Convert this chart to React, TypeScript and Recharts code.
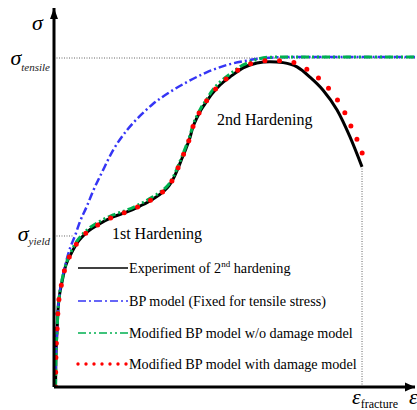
import React from 'react';
import { LineChart, Line, XAxis, YAxis, ReferenceLine, ReferenceDot, Legend } from 'recharts';

// Normalised units: strain / fracture strain, stress / tensile stress
const SIGMA_TENSILE = 1.0;
const SIGMA_YIELD = 0.459;
const EPS_FRACTURE = 1.0;
const X_MAX = 1.172;
const Y_MAX = 1.152;

const experimentStrain = [0.005, 0.006, 0.01, 0.013, 0.018, 0.026, 0.036, 0.045, 0.055, 0.075, 0.091, 0.107, 0.146, 0.192, 0.237, 0.279, 0.321, 0.354, 0.373, 0.39, 0.403, 0.416, 0.429, 0.442, 0.451, 0.464, 0.477, 0.494, 0.513, 0.539, 0.571, 0.614, 0.659, 0.701, 0.744, 0.789, 0.831, 0.873, 0.919, 0.961, 1.0];
const experimentStress = [0, 0.082, 0.173, 0.234, 0.28, 0.319, 0.362, 0.386, 0.404, 0.438, 0.456, 0.471, 0.495, 0.517, 0.532, 0.55, 0.571, 0.593, 0.611, 0.638, 0.666, 0.696, 0.726, 0.76, 0.79, 0.818, 0.842, 0.866, 0.891, 0.918, 0.942, 0.97, 0.985, 0.989, 0.986, 0.973, 0.942, 0.903, 0.842, 0.76, 0.669];

const bpStrain = [0.005, 0.006, 0.01, 0.013, 0.019, 0.029, 0.039, 0.052, 0.068, 0.084, 0.107, 0.127, 0.156, 0.192, 0.237, 0.279, 0.321, 0.377, 0.432, 0.497, 0.562, 0.62, 0.685, 0.766, 1.172];
const bpStress = [0, 0.082, 0.173, 0.234, 0.289, 0.34, 0.38, 0.422, 0.459, 0.502, 0.55, 0.596, 0.653, 0.72, 0.781, 0.824, 0.86, 0.897, 0.927, 0.957, 0.979, 0.991, 1.0, 1.003, 1.003];

const modNoDamageStrain = [0.005, 0.006, 0.01, 0.013, 0.018, 0.026, 0.036, 0.055, 0.075, 0.107, 0.146, 0.192, 0.237, 0.279, 0.321, 0.354, 0.373, 0.39, 0.403, 0.416, 0.429, 0.442, 0.451, 0.464, 0.477, 0.494, 0.513, 0.539, 0.571, 0.614, 0.653, 0.692, 0.734, 1.172];
const modNoDamageStress = [0, 0.082, 0.173, 0.234, 0.28, 0.325, 0.365, 0.41, 0.444, 0.477, 0.502, 0.523, 0.538, 0.556, 0.578, 0.599, 0.617, 0.644, 0.672, 0.702, 0.733, 0.766, 0.796, 0.824, 0.848, 0.872, 0.9, 0.927, 0.951, 0.979, 0.994, 1.002, 1.003, 1.003];

const modDamageStrain = [0.005, 0.006, 0.01, 0.013, 0.018, 0.026, 0.036, 0.045, 0.055, 0.075, 0.091, 0.107, 0.146, 0.192, 0.237, 0.279, 0.321, 0.354, 0.373, 0.39, 0.403, 0.416, 0.429, 0.442, 0.451, 0.464, 0.477, 0.494, 0.513, 0.539, 0.571, 0.614, 0.659, 0.698, 0.747, 0.792, 0.834, 0.873, 0.903, 0.929, 0.951, 0.971, 0.99, 1.006];
const modDamageStress = [0, 0.082, 0.173, 0.234, 0.28, 0.319, 0.362, 0.386, 0.404, 0.438, 0.456, 0.471, 0.495, 0.517, 0.533, 0.551, 0.572, 0.594, 0.612, 0.639, 0.667, 0.697, 0.727, 0.761, 0.791, 0.819, 0.843, 0.868, 0.893, 0.92, 0.945, 0.973, 0.988, 0.992, 0.991, 0.982, 0.957, 0.927, 0.894, 0.86, 0.821, 0.778, 0.739, 0.696];

const seriesNames = [
  'Experiment of 2nd hardening',
  'BP model (Fixed for tensile stress)',
  'Modified BP model w/o damage model',
  'Modified BP model with damage model',
];
const annotationTexts = ['1st Hardening', '2nd Hardening'];

const zip = (xs: number[], ys: number[]) => xs.map((x, i) => ({ x, y: ys[i] }));
const experimentData = zip(experimentStrain, experimentStress);
const bpData = zip(bpStrain, bpStress);
const modNoDamageData = zip(modNoDamageStrain, modNoDamageStress);
const modDamageData = zip(modDamageStrain, modDamageStress);

const FONT = '"Liberation Serif", "Times New Roman", serif';
const BLUE = '#3535f5';
const GREEN = '#00b050';
const RED = '#ff0000';
const BLUE_DASH = '8 3 2 3';
const GREEN_DASH = '8 3 2 3 2 3';

const YTick = (props: any) => {
  const { y, payload } = props;
  const isTensile = Math.abs(payload.value - SIGMA_TENSILE) < 1e-6;
  const sub = isTensile ? 'tensile' : 'yield';
  const base = isTensile ? 7 : 5;
  const subDy = isTensile ? 6 : 4;
  return (
    <text x={50} y={y + base} textAnchor="end" fontFamily={FONT} fill="#000">
      <tspan fontSize={22} fontStyle="italic">σ</tspan>
      <tspan fontSize={11} fontStyle="italic" dy={subDy} fill="#222">{sub}</tspan>
    </text>
  );
};

const XTick = (props: any) => {
  const { x } = props;
  return (
    <text x={x - 10} y={404} textAnchor="start" fontFamily={FONT} fill="#000">
      <tspan fontSize={22} fontStyle="italic">ε</tspan>
      <tspan fontSize={12} dy={3.5}>fracture</tspan>
    </text>
  );
};

const YArrow = (props: any) => {
  const { cx, cy } = props;
  return (
    <g>
      <polygon points={`${cx},${cy} ${cx - 4},${cy + 11} ${cx + 4},${cy + 11}`} fill="#000" />
      <text x={cx - 22} y={cy + 22} fontFamily={FONT} fontSize={22} fontStyle="italic" fill="#000">σ</text>
    </g>
  );
};

const XArrow = (props: any) => {
  const { cx, cy } = props;
  return (
    <g>
      <polygon points={`${cx},${cy} ${cx - 10},${cy - 4.5} ${cx - 10},${cy + 4.5}`} fill="#000" />
      <text x={cx - 6} y={cy + 17} fontFamily={FONT} fontSize={22} fontStyle="italic" fill="#000">ε</text>
    </g>
  );
};

const makeTextShape = (text: string) => (props: any) => {
  const { cx, cy } = props;
  return (
    <text x={cx} y={cy} fontFamily={FONT} fontSize={16} fill="#000">{text}</text>
  );
};

const LegendContent = () => {
  const rows = [
    { name: seriesNames[0], stroke: '#000', dash: undefined, width: 1.6, cap: 'butt' },
    { name: seriesNames[1], stroke: BLUE, dash: BLUE_DASH, width: 1.6, cap: 'butt' },
    { name: seriesNames[2], stroke: GREEN, dash: GREEN_DASH, width: 1.6, cap: 'butt' },
    { name: seriesNames[3], stroke: RED, dash: '0 8', width: 3.4, cap: 'round' },
  ];
  const centers = [10, 43, 75, 106];
  return (
    <svg width={320} height={120} style={{ display: 'block' }}>
      {rows.map((r, i) => (
        <g key={i}>
          <line x1={2} x2={52} y1={centers[i]} y2={centers[i]} stroke={r.stroke} strokeWidth={r.width}
            strokeDasharray={r.dash} strokeLinecap={r.cap as any} />
          {i === 0 ? (
            <text x={53} y={centers[i] + 4.5} fontFamily={FONT} fontSize={14.2} fill="#000">
              Experiment of 2<tspan fontSize={9} dy={-6}>nd</tspan><tspan dy={6}> hardening</tspan>
            </text>
          ) : (
            <text x={53} y={centers[i] + 4.5} fontFamily={FONT} fontSize={14.2} fill="#000">{r.name}</text>
          )}
        </g>
      ))}
    </svg>
  );
};

export default function App() {
  return (
    <div style={{ position: 'absolute', left: 0, top: 0, width: 417, height: 410, background: '#fff', fontFamily: FONT }}>
      <LineChart width={417} height={410} margin={{ top: 8, right: 2, left: 53, bottom: 22 }}>
        <XAxis type="number" dataKey="x" domain={[0, X_MAX]} allowDataOverflow ticks={[EPS_FRACTURE]}
          tick={<XTick />} tickLine={false} height={1} axisLine={{ stroke: '#000', strokeWidth: 3 }} />
        <YAxis type="number" dataKey="y" domain={[0, Y_MAX]} allowDataOverflow ticks={[SIGMA_YIELD, SIGMA_TENSILE]}
          tick={<YTick />} tickLine={false} width={1} axisLine={{ stroke: '#000', strokeWidth: 3 }} />
        <ReferenceLine segment={[{ x: 0, y: SIGMA_TENSILE }, { x: X_MAX, y: SIGMA_TENSILE }]} stroke="#666" strokeWidth={1} strokeDasharray="1 1.5" />
        <ReferenceLine segment={[{ x: 0, y: SIGMA_YIELD }, { x: 0.06, y: SIGMA_YIELD }]} stroke="#666" strokeWidth={1} strokeDasharray="1 1.5" />
        <ReferenceLine segment={[{ x: EPS_FRACTURE, y: 0 }, { x: EPS_FRACTURE, y: 0.669 }]} stroke="#666" strokeWidth={1} strokeDasharray="1 1.5" />
        <Line data={experimentData} dataKey="y" type="monotone" stroke="#000" strokeWidth={3} dot={false} activeDot={false} isAnimationActive={false} name={seriesNames[0]} />
        <Line data={bpData} dataKey="y" type="monotone" stroke={BLUE} strokeWidth={2.5} strokeDasharray={BLUE_DASH} dot={false} activeDot={false} isAnimationActive={false} name={seriesNames[1]} />
        <Line data={modNoDamageData} dataKey="y" type="monotone" stroke={GREEN} strokeWidth={3} strokeDasharray={GREEN_DASH} dot={false} activeDot={false} isAnimationActive={false} name={seriesNames[2]} />
        <Line data={modDamageData} dataKey="y" type="monotone" stroke={RED} strokeWidth={5} strokeDasharray="0 14.6" strokeLinecap="round" dot={false} activeDot={false} isAnimationActive={false} name={seriesNames[3]} />
        <ReferenceDot x={0} y={Y_MAX} ifOverflow="visible" shape={<YArrow />} />
        <ReferenceDot x={X_MAX} y={0} ifOverflow="visible" shape={<XArrow />} />
        <ReferenceDot x={0.188} y={0.45} ifOverflow="visible" shape={makeTextShape(annotationTexts[0])} />
        <ReferenceDot x={0.529} y={0.796} ifOverflow="visible" shape={makeTextShape(annotationTexts[1])} />
        <Legend layout="vertical" align="center" verticalAlign="middle" content={<LegendContent />}
          wrapperStyle={{ position: 'absolute', left: 76, top: 258, width: 320, height: 120 }} />
      </LineChart>
    </div>
  );
}
